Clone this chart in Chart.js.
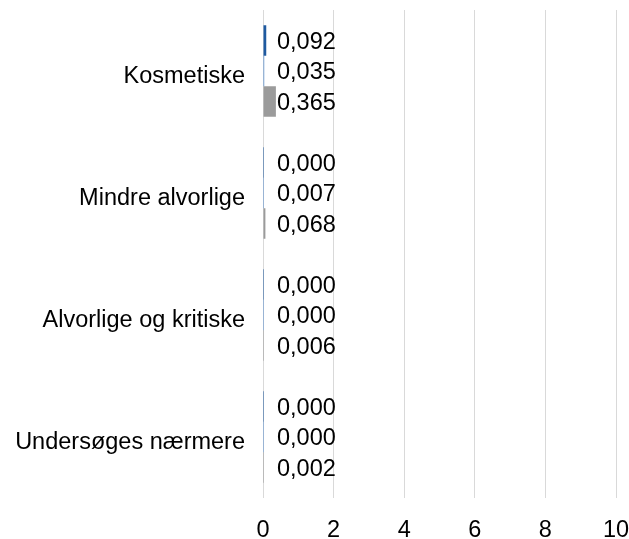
<!DOCTYPE html>
<html>
<head>
<meta charset="utf-8">
<script src="https://cdn.jsdelivr.net/npm/chart.js@4/dist/chart.umd.min.js"></script>
<style>
  html, body { margin: 0; padding: 0; background: #fff; }
  #wrap { width: 629px; height: 539px; }
</style>
</head>
<body>
<div id="wrap"><canvas id="chart" width="629" height="539"></canvas></div>
<script>
// Categories and series values
const categories = ['Kosmetiske', 'Mindre alvorlige', 'Alvorlige og kritiske', 'Undersøges nærmere'];
const seriesA = [0.092, 0.000, 0.000, 0.000];
const seriesB = [0.035, 0.007, 0.000, 0.000];
const seriesC = [0.365, 0.068, 0.006, 0.002];
const xMin = 0, xMax = 10, xStep = 2;

const font = "'Liberation Sans', Arial, sans-serif";

// Draw the value next to every bar, starting just right of the zero line
const valueLabels = {
    id: 'valueLabels',
    afterDatasetsDraw(chart) {
        const ctx = chart.ctx;
        const x0 = chart.scales.x.getPixelForValue(0);
        ctx.save();
        ctx.font = '23.5px ' + font;
        ctx.fillStyle = '#000';
        ctx.textAlign = 'left';
        ctx.textBaseline = 'middle';
        chart.data.datasets.forEach((ds, i) => {
            chart.getDatasetMeta(i).data.forEach((bar, j) => {
                ctx.fillText(ds.data[j].toFixed(3).replace('.', ','), x0 + 14, bar.y + 2);
            });
        });
        ctx.restore();
    }
};

new Chart(document.getElementById('chart').getContext('2d'), {
    type: 'bar',
    data: {
        labels: categories,
        datasets: [
            { label: 'A', data: seriesA, backgroundColor: '#1f5aa0' },
            { label: 'B', data: seriesB, backgroundColor: '#5b8fd0' },
            { label: 'C', data: seriesC, backgroundColor: '#9b9b9b' }
        ]
    },
    options: {
        indexAxis: 'y',
        responsive: false,
        animation: false,
        layout: { padding: { top: 10, right: 13, left: 0, bottom: 0 } },
        datasets: { bar: { categoryPercentage: 0.75, barPercentage: 1, minBarLength: 1 } },
        plugins: { legend: { display: false }, tooltip: { enabled: false } },
        scales: {
            x: {
                min: xMin, max: xMax,
                ticks: { stepSize: xStep, padding: 18, color: '#000', font: { family: font, size: 23.5 } },
                grid: { color: '#d9d9d9', lineWidth: 1, drawTicks: false },
                border: { display: false },
                afterFit: s => { s.height = 41; s.paddingLeft = 0; s.paddingRight = 0; }
            },
            y: {
                ticks: { padding: 18, labelOffset: 6, color: '#000', font: { family: font, size: 23.5 } },
                grid: { display: false, drawTicks: false },
                border: { display: false },
                afterFit: s => { s.width = 263; s.paddingTop = 0; s.paddingBottom = 0; }
            }
        }
    },
    plugins: [valueLabels]
});
</script>
</body>
</html>
